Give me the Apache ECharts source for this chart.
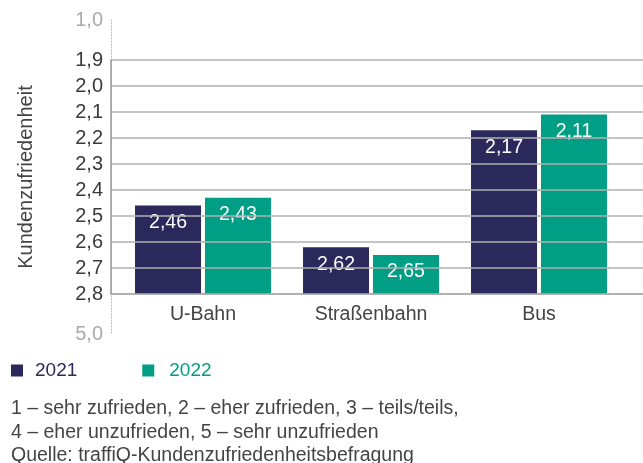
<!DOCTYPE html>
<html>
<head>
<meta charset="utf-8">
<script src="https://cdn.jsdelivr.net/npm/echarts@6/dist/echarts.min.js"></script>
<style>
  html, body { margin: 0; padding: 0; background: #fff; }
  #chart { width: 643px; height: 463px; }
</style>
</head>
<body>
<div id="chart"></div>
<script>
const categories = ['U-Bahn', 'Straßenbahn', 'Bus'];
const values2021 = [2.46, 2.62, 2.17];
const values2022 = [2.43, 2.65, 2.11];
const brokenTicks = ['1,0', '5,0'];
const notes = [
  '1 – sehr zufrieden, 2 – eher zufrieden, 3 – teils/teils,',
  '4 – eher unzufrieden, 5 – sehr unzufrieden',
  'Quelle: traffiQ-Kundenzufriedenheitsbefragung'
];

const navy = '#2b285c';
const teal = '#009e84';
const font = "'Liberation Sans', Arial, sans-serif";

function comma(v, d) {
  return v.toFixed(d).replace('.', ',');
}

let chart = echarts.init(document.getElementById('chart'));

let barLabel = {
  show: true,
  position: 'insideTop',
  distance: 7,
  color: '#fff',
  fontSize: 19.5,
  fontFamily: font,
  formatter: p => comma(p.value, 2)
};

let option = {
  animation: false,
  textStyle: {fontFamily: font},
  title: {
    text: notes.join('\n'),
    left: 6,
    top: 392,
    textStyle: {fontSize: 19.5, fontWeight: 'normal', color: '#444', lineHeight: 23.5, fontFamily: font}
  },
  legend: {
    left: 6,
    top: 356,
    itemWidth: 12,
    itemHeight: 12,
    itemGap: 65,
    icon: 'rect',
    textStyle: {fontSize: 19, fontFamily: font, padding: [0, 0, 0, 7]},
    data: [
      {name: '2021', textStyle: {color: navy}},
      {name: '2022', textStyle: {color: teal, padding: [0, 0, 0, 10]}}
    ]
  },
  grid: [
    // frame with gridlines and labels
    {left: 111, right: 0, top: 60, height: 234},
    // bars
    {left: 119, right: 20, top: 60, height: 234},
    // broken axis ends
    {left: 111, right: 0, top: 20, height: 314}
  ],
  xAxis: [
    {
      gridIndex: 0, type: 'value', min: 0, max: 1,
      axisLine: {show: true, onZero: false, lineStyle: {color: '#9a9a9a', width: 1.5}},
      axisTick: {show: false}, axisLabel: {show: false}, splitLine: {show: false}
    },
    {
      gridIndex: 1, type: 'category', data: categories,
      axisLine: {show: false}, axisTick: {show: false},
      axisLabel: {margin: 11, fontSize: 19.5, color: '#444', fontFamily: font}
    },
    {gridIndex: 2, type: 'value', show: false, min: 0, max: 1}
  ],
  yAxis: [
    {
      gridIndex: 0, type: 'value', inverse: true, min: 1.9, max: 2.8, interval: 0.1,
      name: 'Kundenzufriedenheit',
      nameLocation: 'middle',
      nameGap: 75,
      nameTextStyle: {fontSize: 20, color: '#444', fontFamily: font},
      axisLine: {show: true, lineStyle: {color: '#9a9a9a', width: 1.5}},
      axisTick: {show: false},
      axisLabel: {margin: 8, fontSize: 20, color: '#3a3a3a', fontFamily: font, formatter: v => comma(v, 1)},
      splitLine: {lineStyle: {color: '#b0b0b0', width: 1.5}},
      z: 3
    },
    {
      gridIndex: 1, type: 'value', inverse: true, min: 1.9, max: 2.8, startValue: 2.8,
      show: false
    },
    {
      gridIndex: 2, type: 'value', inverse: true, min: 0, max: 1, interval: 1,
      axisLine: {show: true, lineStyle: {color: '#b5b5b5', width: 1, type: [1, 2]}},
      axisTick: {show: false},
      splitLine: {show: false},
      axisLabel: {margin: 8, fontSize: 20, color: '#aaa', fontFamily: font, formatter: v => brokenTicks[v]},
      z: 1
    }
  ],
  series: [
    {
      name: '2021', type: 'bar', xAxisIndex: 1, yAxisIndex: 1,
      data: values2021, barWidth: 66, barGap: '6%',
      itemStyle: {color: navy}, label: barLabel
    },
    {
      name: '2022', type: 'bar', xAxisIndex: 1, yAxisIndex: 1,
      data: values2022, barWidth: 66, barGap: '6%',
      itemStyle: {color: teal}, label: barLabel
    }
  ]
};

chart.setOption(option);
</script>
</body>
</html>
